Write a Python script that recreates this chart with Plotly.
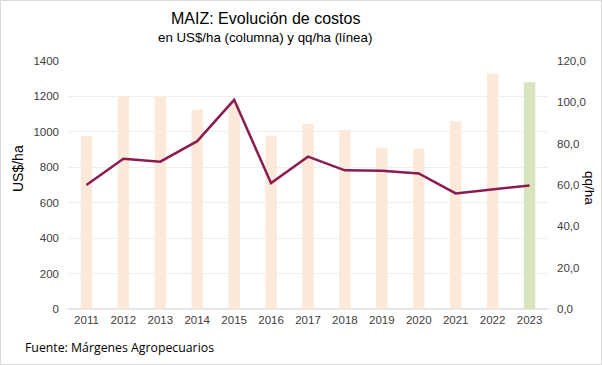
import plotly.graph_objects as go

years = ["2011", "2012", "2013", "2014", "2015", "2016", "2017",
         "2018", "2019", "2020", "2021", "2022", "2023"]
costos_usd_ha = [975, 1200, 1200, 1125, 1160, 980, 1045, 1010, 910, 905, 1060, 1328, 1280]
rinde_qq_ha = [60.0, 72.7, 71.3, 81.2, 101.2, 60.9, 73.7, 67.1, 66.9, 65.6, 55.9, 57.7, 59.8]
left_ticks = [0, 200, 400, 600, 800, 1000, 1200, 1400]
right_ticks = [0, 20, 40, 60, 80, 100, 120]
right_tick_labels = ["0,0", "20,0", "40,0", "60,0", "80,0", "100,0", "120,0"]

bar_colors = ["#FDE9D9"] * (len(years) - 1) + ["#D7E4BC"]

W, H = 602, 365
ml, mr, mt, mb = 68, 54, 61, 56
pw, ph = W - ml - mr, H - mt - mb

fig = go.Figure()
fig.add_trace(go.Bar(x=years, y=costos_usd_ha, marker=dict(color=bar_colors, line=dict(width=0)),
                     width=0.31, yaxis="y", hoverinfo="x+y"))
fig.add_trace(go.Scatter(x=years, y=rinde_qq_ha, mode="lines", yaxis="y2",
                         line=dict(color="#8B1C52", width=2.5)))

font = "Liberation Sans, Arial, sans-serif"
fig.update_layout(
    width=W, height=H,
    margin=dict(l=ml, r=mr, t=mt, b=mb, autoexpand=False),
    paper_bgcolor="white", plot_bgcolor="white",
    showlegend=False,
    font=dict(family=font, color="#404040", size=11.5),
    xaxis=dict(type="category", showgrid=False, showline=False, ticks="",
               tickfont=dict(size=11.5, color="#404040"), ticklabelstandoff=2),
    yaxis=dict(range=[0, 1400], tickvals=left_ticks, showgrid=True, gridcolor="#EEEEEE",
               gridwidth=1, zeroline=True, zerolinecolor="#E6E6E6", showline=False,
               ticks="", tickfont=dict(size=11.5, color="#404040"), ticklabelstandoff=8),
    yaxis2=dict(range=[0, 120], tickvals=right_ticks, ticktext=right_tick_labels,
                overlaying="y", side="right", showgrid=False, zeroline=False, showline=False,
                ticks="", tickfont=dict(size=11.5, color="#404040"), ticklabelstandoff=8),
    bargap=0.69,
)

def px_x(x):
    return (x - ml) / pw

def px_y(y):
    return (H - mb - y) / ph

annotations = [
    dict(text="MAIZ: Evolución de costos", x=px_x(265), y=px_y(18), xref="paper", yref="paper",
         showarrow=False, font=dict(size=16, color="#000000", family=font), xanchor="center", yanchor="middle"),
    dict(text="en US$/ha (columna) y qq/ha (línea)", x=px_x(265), y=px_y(37), xref="paper", yref="paper",
         showarrow=False, font=dict(size=13.3, color="#000000", family=font), xanchor="center", yanchor="middle"),
    dict(text="US$/ha", x=px_x(18), y=px_y(169), xref="paper", yref="paper", textangle=-90,
         showarrow=False, font=dict(size=14, color="#000000", family=font), xanchor="center", yanchor="middle"),
    dict(text="qq/ha", x=px_x(590), y=px_y(188), xref="paper", yref="paper", textangle=90,
         showarrow=False, font=dict(size=13.5, color="#000000", family=font), xanchor="center", yanchor="middle"),
    dict(text="Fuente: Márgenes Agropecuarios", x=px_x(23), y=px_y(347), xref="paper", yref="paper",
         showarrow=False, font=dict(size=12.3, color="#000000", family="Open Sans, Noto Sans, sans-serif"),
         xanchor="left", yanchor="middle"),
]
fig.update_layout(annotations=annotations)

fig.add_shape(type="rect", xref="paper", yref="paper",
              x0=px_x(0.5), x1=px_x(W - 0.5), y0=px_y(0.5), y1=px_y(H - 0.5),
              line=dict(color="#D9D9D9", width=1), fillcolor="rgba(0,0,0,0)", layer="below")

fig.write_html("out.html", config={"displayModeBar": False},
               post_script="document.body.style.margin='0';document.body.style.overflow='hidden';")
